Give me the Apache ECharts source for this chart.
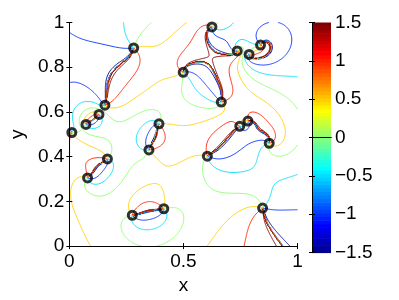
<!DOCTYPE html>
<html><head><meta charset="utf-8">
<script src="https://cdn.jsdelivr.net/npm/echarts@6/dist/echarts.min.js"></script>
<style>html,body{margin:0;padding:0;background:#fff}#c{width:399px;height:300px}</style>
</head><body><div id="c"></div>
<script>
// Singular points: position, winding sign, and direction (deg) of the jump line leaving each
const defectX = [0.282,0.499,0.625,0.736,0.788,0.838,0.666,0.156,0.130,0.073,0.011,0.393,0.349,0.167,0.080,0.276,0.414,0.747,0.783,0.876,0.605,0.847];
const defectY = [0.886,0.777,0.980,0.873,0.857,0.899,0.644,0.630,0.589,0.544,0.508,0.547,0.430,0.390,0.305,0.138,0.167,0.536,0.559,0.460,0.402,0.170];
const defectSign = [-1,-1,1,-1,-1,1,1,1,1,-1,-1,-1,1,1,-1,-1,1,1,-1,1,-1,1];
const cutAngle = [-110,80,-150,-100,-95,50,75,80,-140,40,180,-111,69,-136,44,12,-168,-137,20,80,43,-75];
const contourLevels = [-1.5,-1,-0.5,0,0.5,1,1.5];
const colorRange = [-1.5, 1.5];
const gridN = 231;

function jet(m){
  const n = Math.ceil(m/4);
  const u = [];
  for(let i=1;i<=n;i++) u.push(i/n);
  for(let i=1;i<n;i++) u.push(1);
  for(let i=n;i>=1;i--) u.push(i/n);
  const g0 = Math.ceil(n/2) - (m%4===1?1:0);
  const cols = [];
  for(let i=1;i<=m;i++) cols.push([0,0,0]);
  for(let k=1;k<=u.length;k++){
    const g = g0 + k, r = g + n, b = g - n;
    if(r>=1&&r<=m) cols[r-1][0]=u[k-1];
    if(g>=1&&g<=m) cols[g-1][1]=u[k-1];
    if(b>=1&&b<=m) cols[b-1][2]=u[k-1];
  }
  return cols.map(c=>'rgb('+c.map(v=>Math.round(v*255)).join(',')+')');
}
const cmap = jet(64);
function levelColor(L){
  let idx = Math.floor((L-colorRange[0])/(colorRange[1]-colorRange[0])*64);
  idx = Math.max(0, Math.min(63, idx));
  return cmap[idx];
}
const K = defectX.length;
function wrapPi(a){ return a - Math.PI*Math.round(a/Math.PI); }
function windSum(x,y,skip){
  let s=0;
  for(let k=0;k<K;k++){ if(k===skip) continue; s += 0.5*defectSign[k]*Math.atan2(y-defectY[k], x-defectX[k]); }
  return s;
}
const D = [];
for(let k=0;k<K;k++){
  const a = cutAngle[k]*Math.PI/180;
  D.push(wrapPi(Math.PI/2 - 0.5*defectSign[k]*a - windSum(defectX[k], defectY[k], k)));
}
let sc=0, ss=0; D.forEach(d=>{sc+=Math.cos(2*d); ss+=Math.sin(2*d);});
const mean = 0.5*Math.atan2(ss, sc);
const Du = D.map(d=>mean + wrapPi(d-mean));
function background(x,y){
  let num=0, den=0;
  for(let k=0;k<K;k++){
    const dx=x-defectX[k], dy=y-defectY[k];
    const w = 1/(dx*dx+dy*dy+1e-6);
    num += w*Du[k]; den += w;
  }
  return num/den;
}
function fieldAt(x,y){ return wrapPi(windSum(x,y,-1) + background(x,y)); }

const N = gridN;
const V = [];
for(let j=0;j<N;j++){ const row=[]; for(let i=0;i<N;i++) row.push(fieldAt(i/(N-1), j/(N-1))); V.push(row); }

function contour(L){
  const segs = [];
  const pts = {};
  function hk(i,j){ return (j*N+i)*2; }
  function vk(i,j){ return (j*N+i)*2+1; }
  function pt(key){
    if(pts[key]) return pts[key];
    const e = key%2, idx=(key-e)/2, i = idx%N, j=(idx-i)/N;
    let p;
    if(e===0){ const a=V[j][i], b=V[j][i+1]; const t=(L-a)/(b-a); p=[(i+t)/(N-1), j/(N-1)]; }
    else { const a=V[j][i], b=V[j+1][i]; const t=(L-a)/(b-a); p=[i/(N-1), (j+t)/(N-1)]; }
    pts[key]=p; return p;
  }
  for(let j=0;j<N-1;j++) for(let i=0;i<N-1;i++){
    const a=V[j][i], b=V[j][i+1], c=V[j+1][i+1], d=V[j+1][i];
    const ek=[hk(i,j), vk(i+1,j), hk(i,j+1), vk(i,j)];
    const A=a>L,B=b>L,C=c>L,Dd=d>L;
    const e=[];
    if(A!==B) e.push(0); if(B!==C) e.push(1); if(Dd!==C) e.push(2); if(A!==Dd) e.push(3);
    if(e.length===2) segs.push([ek[e[0]], ek[e[1]]]);
    else if(e.length===4){
      const ctr=(a+b+c+d)/4>L;
      if(A){ if(ctr){segs.push([ek[0],ek[1]]);segs.push([ek[2],ek[3]]);} else {segs.push([ek[0],ek[3]]);segs.push([ek[1],ek[2]]);} }
      else { if(ctr){segs.push([ek[0],ek[3]]);segs.push([ek[1],ek[2]]);} else {segs.push([ek[0],ek[1]]);segs.push([ek[2],ek[3]]);} }
    }
  }
  const adj = {};
  segs.forEach((s,si)=>{ (adj[s[0]]=adj[s[0]]||[]).push(si); (adj[s[1]]=adj[s[1]]||[]).push(si); });
  const used = new Array(segs.length).fill(false);
  const lines = [];
  function walk(start, si){
    const out=[start]; let cur=start, s=si;
    while(s!==undefined && !used[s]){
      used[s]=true;
      const nxt = segs[s][0]===cur?segs[s][1]:segs[s][0];
      out.push(nxt); cur=nxt;
      const cand=(adj[cur]||[]).filter(x=>!used[x]);
      s=cand[0];
    }
    return out;
  }
  for(let si=0;si<segs.length;si++){
    if(used[si]) continue;
    const k0=segs[si][0];
    const fwd = walk(k0, si);
    const back0=(adj[k0]||[]).filter(x=>!used[x]);
    let back=[k0];
    if(back0.length){ back = walk(k0, back0[0]); }
    const chain = back.slice().reverse().concat(fwd.slice(1));
    lines.push({coords: chain.map(pt)});
  }
  return lines;
}

const series = [];
contourLevels.forEach(L=>{
  series.push({
    type:'lines', coordinateSystem:'cartesian2d', xAxisIndex:0, yAxisIndex:0,
    polyline:true, silent:true, animation:false, z:2,
    lineStyle:{color:levelColor(L), width:0.9, opacity:1},
    data: contour(L)
  });
});
series.push({
  type:'scatter', xAxisIndex:0, yAxisIndex:0, z:5, silent:true, animation:false,
  symbol:'circle', symbolSize:8,
  itemStyle:{color:'rgba(0,0,0,0)', borderColor:'#000', borderWidth:3},
  data: defectX.map((x,k)=>[x, defectY[k]])
});
const cbCells = cmap.map((c,k)=>[colorRange[0]+k*(colorRange[1]-colorRange[0])/64, colorRange[0]+(k+1)*(colorRange[1]-colorRange[0])/64, k]);
series.push({
  type:'custom', xAxisIndex:2, yAxisIndex:2, silent:true, animation:false, z:1,
  data: cbCells,
  renderItem:(params, api)=>{
    const p0=api.coord([0, api.value(0)]), p1=api.coord([1, api.value(1)]);
    return {type:'rect', shape:{x:p0[0], y:p1[1], width:p1[0]-p0[0], height:p0[1]-p1[1]+0.6}, style:{fill:cmap[api.value(2)]}};
  }
});

const font = 'Liberation Sans';
const txt = {color:'#000', fontSize:19, fontFamily:font};
const line = {show:true, lineStyle:{color:'#000', width:1}};
function ax(extra){ return Object.assign({type:'value', splitLine:{show:false}, axisLine:line, z:10,
  axisTick:{show:true, inside:true, length:3, lineStyle:{color:'#000'}}}, extra); }
const option = {
  backgroundColor:'#fff',
  animation:false,
  grid:[{left:67.5, top:22.5, width:230, height:230}, {left:312, top:22.5, width:19, height:230}],
  xAxis:[
    ax({gridIndex:0, position:'bottom', min:0, max:1, interval:0.5, axisLabel:Object.assign({margin:6}, txt),
        name:'x', nameLocation:'middle', nameGap:27, nameTextStyle:txt}),
    ax({gridIndex:0, position:'top', min:0, max:1, interval:0.5, axisLabel:{show:false}}),
    ax({gridIndex:1, position:'bottom', min:0, max:1, axisTick:{show:false}, axisLabel:{show:false}}),
    ax({gridIndex:1, position:'top', min:0, max:1, axisTick:{show:false}, axisLabel:{show:false}})
  ],
  yAxis:[
    ax({gridIndex:0, position:'left', min:0, max:1, interval:0.2, axisLabel:Object.assign({margin:5}, txt),
        name:'y', nameLocation:'middle', nameGap:36, nameTextStyle:txt}),
    ax({gridIndex:0, position:'right', min:0, max:1, interval:0.2, axisLabel:{show:false}}),
    ax({gridIndex:1, position:'right', min:colorRange[0], max:colorRange[1], interval:0.5,
        axisLabel:Object.assign({margin:4, formatter:v=>String(v).replace('-', '\u2212')}, txt)}),
    ax({gridIndex:1, position:'left', min:colorRange[0], max:colorRange[1], interval:0.5, axisLabel:{show:false}})
  ],
  series
};
const chart = echarts.init(document.getElementById('c'), null, {renderer:'canvas'});
chart.setOption(option);
</script></body></html>
